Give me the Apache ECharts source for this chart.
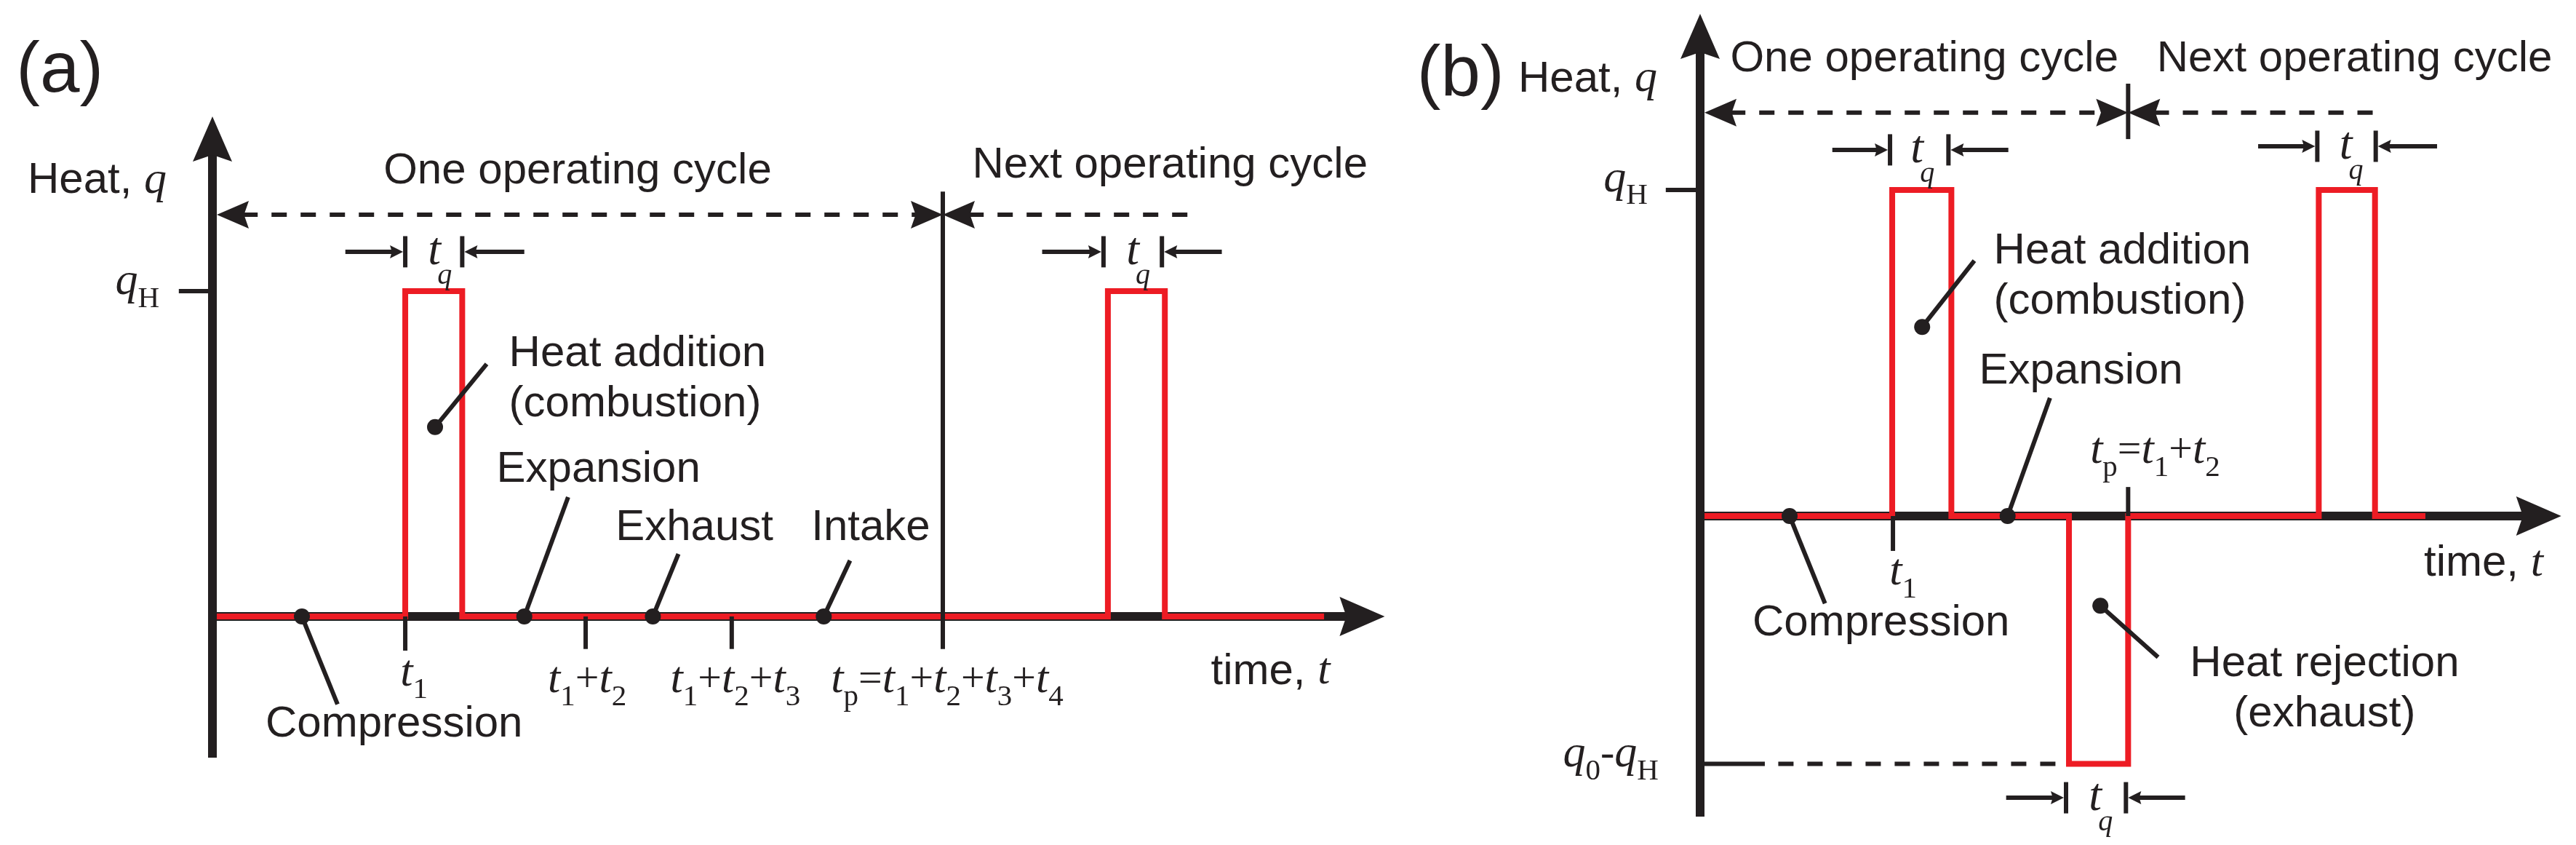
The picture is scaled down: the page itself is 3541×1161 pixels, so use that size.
<!DOCTYPE html>
<html lang="en">
<head>
    <meta charset="UTF-8">
    <title>Heat vs time over an operating cycle</title>
    <style>
        html, body { margin: 0; padding: 0; background: #fff; }
        #chart { width: 3541px; height: 1161px; }
    </style>
</head>
<body>
<div id="chart"></div>
<script src="https://cdn.jsdelivr.net/npm/echarts@6/dist/echarts.min.js"></script>
<script>
    // time unit: tp of panel (a) = 10, heat unit: qH = 1
    // rows for line pieces: [x1, y1, x2, y2, arrowAtStart, arrowAtEnd]

    // ---- panel (a) ----
    var heatA = [[0.06,0],[2.64,0],[2.64,1],[3.42,1],[3.42,0],[12.26,0],[12.26,1],[13.04,1],[13.04,0],[15.22,0]];
    var axisA = [[0,-0.434,0,1.537,0,1],[0,0,16.05,0,0,1]];
    var inkA = [
        [-0.46,1,0,1,0,0],                 // qH tick
        [2.64,0,2.64,-0.105,0,0],          // t1
        [5.11,0,5.11,-0.1,0,0],            // t1+t2
        [7.11,0,7.11,-0.1,0,0],            // t1+t2+t3
        [10,1.306,10,-0.1,0,0],            // tp
        [2.64,1.073,2.64,1.169,0,0],[3.42,1.073,3.42,1.169,0,0],
        [12.2,1.073,12.2,1.169,0,0],[13.0,1.073,13.0,1.169,0,0],
        [1.82,1.121,2.61,1.121,0,1],[4.27,1.121,3.45,1.121,0,1],
        [11.36,1.121,12.17,1.121,0,1],[13.82,1.121,13.03,1.121,0,1],
        [3.755,0.776,3.048,0.582,0,0],[4.87,0.367,4.27,0,0,0],
        [6.38,0.192,6.03,0,0,0],[8.73,0.172,8.37,0,0,0],[1.713,-0.27,1.225,0,0,0]
    ];
    var dashA = [[0.06,1.235,10,1.235,1,1],[10,1.235,13.52,1.235,1,0]];
    var dotA = [[3.048,0.582],[4.27,0],[6.03,0],[8.37,0],[1.225,0]];
    var textA = [
        '{big|(a)}',
        '{sans|Heat, }{hq|q}',
        '{it|q}{sub|H}',
        '{sans|One operating cycle}',
        '{sans|Next operating cycle}',
        '{tt|t}\n{tq|q}', '{tt|t}\n{tq|q}',
        '{sans|Heat addition}\n{sans|(combustion)}',
        '{sans|Expansion}', '{sans|Exhaust}', '{sans|Intake}', '{sans|Compression}',
        '{it|t}{sub|1}',
        '{it|t}{sub|1}{op|+}{it|t}{sub|2}',
        '{it|t}{sub|1}{op|+}{it|t}{sub|2}{op|+}{it|t}{sub|3}',
        '{it|t}{sub|p}{op|=}{it|t}{sub|1}{op|+}{it|t}{sub|2}{op|+}{it|t}{sub|3}{op|+}{it|t}{sub|4}',
        '{sans|time, }{hq|t}'
    ];
    var textPosA = [[-2.09,1.673],[-2.53,1.338],[-0.727,1.027],[5.0,1.367],[13.11,1.387],
        [3.04,1.083],[12.6,1.083],[4.06,0.729],[3.89,0.452],[5.52,0.273],[8.2,0.273],[0.727,-0.333],
        [2.76,-0.175],[5.13,-0.197],[7.16,-0.197],[10.06,-0.197],[13.67,-0.17]];
    var textAlignA = ['center','left','right','center','center','center','center','left','left','left','left','left',
        'center','center','center','center','left'];

    // ---- panel (b) ----
    var qLow = -0.76;   // qo - qH
    var heatB = [[0.06,0],[2.63,0],[2.63,1],[3.44,1],[3.44,0],[5.05,0],[5.05,qLow],[5.86,qLow],[5.86,0],
        [8.47,0],[8.47,1],[9.24,1],[9.24,0],[9.93,0]];
    var axisB = [[0,-0.922,0,1.54,0,1],[0,0,11.79,0,0,1]];
    var inkB = [
        [-0.47,1,0,1,0,0],                 // qH tick
        [0,qLow,0.886,qLow,0,0],           // qo-qH tick
        [2.64,0,2.64,-0.107,0,0],          // t1
        [5.86,0,5.86,0.089,0,0],           // tp
        [5.86,1.326,5.86,1.156,0,0],       // cycle divider
        [2.60,1.075,2.60,1.171,0,0],[3.40,1.075,3.40,1.171,0,0],
        [8.45,1.086,8.45,1.182,0,0],[9.25,1.086,9.25,1.182,0,0],
        [5.01,-0.912,5.01,-0.816,0,0],[5.83,-0.912,5.83,-0.816,0,0],
        [1.81,1.123,2.57,1.123,0,1],[4.22,1.123,3.43,1.123,0,1],
        [7.64,1.134,8.42,1.134,0,1],[10.09,1.134,9.28,1.134,0,1],
        [4.19,-0.864,4.98,-0.864,0,1],[6.64,-0.864,5.86,-0.864,0,1],
        [3.755,0.783,3.04,0.58,0,0],[4.79,0.362,4.21,0,0,0],
        [1.71,-0.268,1.225,0,0,0],[6.27,-0.433,5.48,-0.275,0,0]
    ];
    var dashB = [[0.06,1.237,5.86,1.237,1,1],[5.86,1.237,9.37,1.237,1,0],[1.07,qLow,4.97,qLow,0,0]];
    var dotB = [[3.04,0.58],[4.21,0],[1.225,0],[5.48,-0.275]];
    var textB = [
        '{big|(b)}',
        '{sans|Heat, }{hq|q}',
        '{it|q}{sub|H}',
        '{it|q}{sub|0}{op|-}{it|q}{sub|H}',
        '{sans|One operating cycle}',
        '{sans|Next operating cycle}',
        '{tt|t}\n{tq|q}', '{tt|t}\n{tq|q}', '{tt|t}\n{tq|q}',
        '{sans|Heat addition}\n{sans|(combustion)}',
        '{sans|Expansion}', '{sans|Compression}',
        '{sans|Heat rejection}\n{sans|(exhaust)}',
        '{it|t}{sub|1}',
        '{it|t}{sub|p}{op|=}{it|t}{sub|1}{op|+}{it|t}{sub|2}',
        '{sans|time, }{hq|t}'
    ];
    var textPosB = [[-3.28,1.35],[-2.49,1.339],[-0.719,1.033],[-0.568,-0.732],[3.07,1.40],[8.96,1.40],
        [2.97,1.085],[8.84,1.096],[5.41,-0.902],[4.02,0.734],[3.82,0.444],[0.717,-0.33],[8.55,-0.531],
        [2.78,-0.174],[5.34,0.199],[9.91,-0.147]];
    var textAlignB = ['center','left','right','right','center','center','center','center','center',
        'left','left','left','center','center','left','left'];

    var SANS = '"Liberation Sans", Arial, sans-serif';
    var SERIF = '"Liberation Serif", "Times New Roman", serif';
    var INK = '#231F20', RED = '#ED1C24';
    var KX = 100.4;   // px per time unit
    var frames = [
        {x0: 292, y0: 847, ky: 447, xr: [-2.9, 16.3], yr: [-0.7, 1.88]},
        {x0: 2337, y0: 709, ky: 448, xr: [-3.8, 11.95], yr: [-1.0, 1.56]}
    ];

    var RICH = {
        big: {fontFamily: SANS, fontSize: 98, lineHeight: 100},
        sans: {fontFamily: SANS, fontSize: 60, lineHeight: 69},
        hq: {fontFamily: SERIF, fontStyle: 'italic', fontSize: 62, lineHeight: 69},
        it: {fontFamily: SERIF, fontStyle: 'italic', fontSize: 62, lineHeight: 60},
        sub: {fontFamily: SERIF, fontSize: 41, lineHeight: 40, padding: [46, 0, 0, 0]},
        op: {fontFamily: SERIF, fontSize: 58, lineHeight: 60},
        tt: {fontFamily: SERIF, fontStyle: 'italic', fontSize: 64, lineHeight: 34},
        tq: {fontFamily: SERIF, fontStyle: 'italic', fontSize: 40, lineHeight: 34, padding: [0, 0, 0, 28]}
    };

    function arrowHead(tip, ux, uy, head) {
        var len = head[0], hw = head[1];
        var bx = tip[0] - ux * len, by = tip[1] - uy * len;
        var nx = -uy, ny = ux;
        return {
            type: 'polygon',
            shape: {points: [tip, [bx + nx * hw, by + ny * hw],
                [tip[0] - ux * len * 0.85, tip[1] - uy * len * 0.85], [bx - nx * hw, by - ny * hw]]},
            style: {fill: INK}
        };
    }

    function segSeries(panel, rows, width, head, dash, z) {
        return {
            type: 'custom', xAxisIndex: panel, yAxisIndex: panel, z: z, silent: true,
            data: rows,
            renderItem: function (params, api) {
                var a = api.coord([api.value(0), api.value(1)]);
                var b = api.coord([api.value(2), api.value(3)]);
                var dx = b[0] - a[0], dy = b[1] - a[1];
                var L = Math.sqrt(dx * dx + dy * dy) || 1;
                var ux = dx / L, uy = dy / L;
                var p1 = a, p2 = b, kids = [];
                if (api.value(4) === 1) {
                    kids.push(arrowHead(a, -ux, -uy, head));
                    p1 = [a[0] + ux * head[0] * 0.8, a[1] + uy * head[0] * 0.8];
                }
                if (api.value(5) === 1) {
                    kids.push(arrowHead(b, ux, uy, head));
                    p2 = [b[0] - ux * head[0] * 0.8, b[1] - uy * head[0] * 0.8];
                }
                kids.unshift({
                    type: 'line',
                    shape: {x1: p1[0], y1: p1[1], x2: p2[0], y2: p2[1]},
                    style: {stroke: INK, lineWidth: width, lineDash: dash || null, lineCap: 'butt'}
                });
                return {type: 'group', children: kids};
            }
        };
    }

    function textSeries(panel, pos, texts, aligns) {
        return {
            type: 'custom', xAxisIndex: panel, yAxisIndex: panel, z: 10, silent: true,
            data: pos,
            renderItem: function (params, api) {
                var p = api.coord([api.value(0), api.value(1)]);
                return {
                    type: 'text', x: p[0], y: p[1],
                    style: {
                        text: texts[params.dataIndex], rich: RICH,
                        fontFamily: SANS, fontSize: 60, fill: INK,
                        align: aligns[params.dataIndex], verticalAlign: 'middle'
                    }
                };
            }
        };
    }

    function heatSeries(panel, rows) {
        return {
            type: 'line', xAxisIndex: panel, yAxisIndex: panel, z: 3, silent: true,
            data: rows, symbol: 'none', clip: false,
            lineStyle: {color: RED, width: 8, join: 'miter', cap: 'butt'}
        };
    }

    // leader-line end dots, drawn as circles at the data points
    function dotSeries(panel, rows) {
        return {
            type: 'custom', xAxisIndex: panel, yAxisIndex: panel, z: 6, silent: true,
            data: rows,
            renderItem: function (params, api) {
                var p = api.coord([api.value(0), api.value(1)]);
                return {type: 'circle', z2: 20, shape: {cx: p[0], cy: p[1], r: 11}, style: {fill: INK}};
            }
        };
    }

    var myChart = echarts.init(document.getElementById('chart'), null, {renderer: 'canvas'});

    var grids = [], xAxes = [], yAxes = [];
    frames.forEach(function (f, i) {
        grids.push({
            left: f.x0 + f.xr[0] * KX,
            top: f.y0 - f.yr[1] * f.ky,
            width: (f.xr[1] - f.xr[0]) * KX,
            height: (f.yr[1] - f.yr[0]) * f.ky,
            containLabel: false
        });
        xAxes.push({gridIndex: i, type: 'value', min: f.xr[0], max: f.xr[1], show: false});
        yAxes.push({gridIndex: i, type: 'value', min: f.yr[0], max: f.yr[1], show: false});
    });

    var AXIS_HEAD = [62, 27], DASH_HEAD = [44, 19], SMALL_HEAD = [18, 9];

    let option = {
        backgroundColor: '#fff',
        animation: false,
        grid: grids,
        xAxis: xAxes,
        yAxis: yAxes,
        series: [
            segSeries(0, axisA, 12, AXIS_HEAD, null, 2),
            heatSeries(0, heatA),
            segSeries(0, inkA, 6, SMALL_HEAD, null, 4),
            segSeries(0, dashA, 6, DASH_HEAD, [21, 19], 4),
            dotSeries(0, dotA),
            textSeries(0, textPosA, textA, textAlignA),

            segSeries(1, axisB, 12, AXIS_HEAD, null, 2),
            heatSeries(1, heatB),
            segSeries(1, inkB, 6, SMALL_HEAD, null, 4),
            segSeries(1, dashB, 6, DASH_HEAD, [21, 19], 4),
            dotSeries(1, dotB),
            textSeries(1, textPosB, textB, textAlignB)
        ]
    };
    myChart.setOption(option);
</script>
</body>
</html>
